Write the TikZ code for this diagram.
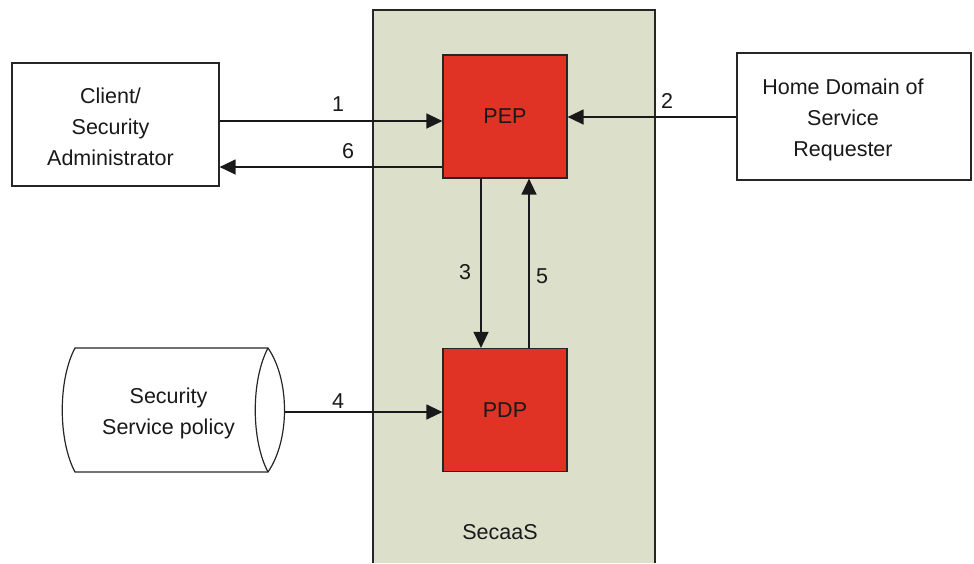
\documentclass[tikz,border=0pt]{standalone}
\usepackage{fontspec}
\setmainfont{Liberation Sans}
\usetikzlibrary{arrows.meta}
\definecolor{panelfill}{HTML}{DCE0CB}
\definecolor{boxred}{HTML}{E03225}
\begin{document}
\begin{tikzpicture}[x=1pt,y=-1pt,
  every node/.style={font=\fontsize{21.5}{31}\selectfont, text=black!90},
  plainbox/.style={draw=black!85, line width=1.2pt, fill=white, inner sep=0pt},
  boxtext/.style={align=center, inner sep=0pt},
  redbox/.style={draw=black!85, line width=1.2pt, fill=boxred, minimum width=124pt, minimum height=123pt, inner sep=0pt},
  arr/.style={draw=black!90, line width=1.3pt, -{Triangle[length=16pt,width=15pt]}},
  num/.style={inner sep=1pt}]
\useasboundingbox (0,0) rectangle (974,563);
\fill[white] (0,0) rectangle (974,563);

% SecaaS panel (runs off the bottom edge)
\fill[panelfill] (373,10) rectangle (655,563);
\draw[black!85, line width=1.2pt] (373,563) -- (373,10) -- (655,10) -- (655,563);
\node (secaas) at (500,532) {SecaaS};

% boxes
\node[plainbox, minimum width=207pt, minimum height=123pt] (client) at (115.5,124.5) {};
\node[boxtext] (clienttext) at ([xshift=-5pt,yshift=-2pt]client.center)
  {Client/\\Security\\Administrator};
\node[plainbox, minimum width=234pt, minimum height=127pt] (home) at (854,116.5) {};
\node[boxtext] (hometext) at ([xshift=-11pt,yshift=-3pt]home.center)
  {Home Domain of\\Service\\Requester};
\node[redbox] (pep) at (505,116.5) {PEP};
\node[redbox] (pdp) at (505,410) {PDP};

% policy store: horizontal drum with a lens-shaped front face on the right
\draw[black!85, line width=1.2pt, fill=white]
  (75,348) -- (268,348) .. controls (290,380) and (290,440) .. (268,472)
  -- (75,472) .. controls (58,440) and (58,380) .. (75,348) -- cycle;
\draw[black!85, line width=1.2pt] (268,348) .. controls (251,380) and (251,440) .. (268,472);
\node[inner sep=0pt, minimum width=223pt, minimum height=124pt] (policy) at (173.5,410) {};
\node[boxtext] (policytext) at ([xshift=-5pt,yshift=-3pt]policy.center)
  {Security\\Service policy};

% connectors
\draw[arr] (client.east |- 0,121) -- (pep.west |- 0,121);
\draw[arr] (pep.west |- 0,167) -- (client.east |- 0,167);
\draw[arr] (home.west |- 0,117) -- (pep.east |- 0,117);
\draw[arr] (pep.south -| 481,0) -- (pdp.north -| 481,0);
\draw[arr] (pdp.north -| 529,0) -- (pep.south -| 529,0);
\draw[arr] (policy.east |- 0,412) -- (pdp.west |- 0,412);

% connector labels
\node[num] (n1) at (338,104) {1};
\node[num] (n6) at (348,151) {6};
\node[num] (n2) at (667,101) {2};
\node[num] (n3) at (465,272) {3};
\node[num] (n5) at (542,276) {5};
\node[num] (n4) at (338,401) {4};
\end{tikzpicture}
\end{document}
